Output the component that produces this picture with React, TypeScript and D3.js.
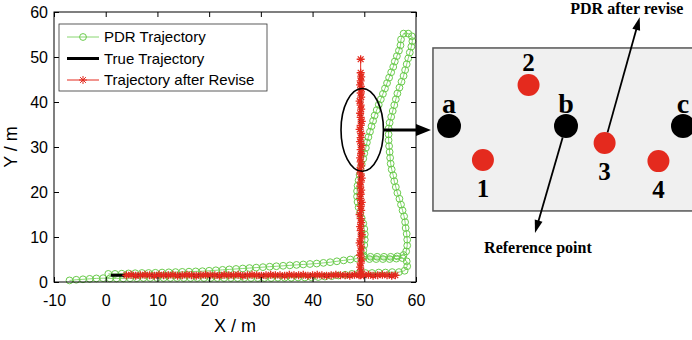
import React, { useEffect, useRef } from 'react';
import * as d3 from 'd3';

type Pt = [number, number];

const xTicks = [-10, 0, 10, 20, 30, 40, 50, 60];
const yTicks = [0, 10, 20, 30, 40, 50, 60];

// PDR trajectory in walking order
const pdrEast: Pt[] = [
  [0.5, 1.8], [1.8, 1.8], [3.1, 1.85], [4.4, 1.9], [5.7, 1.95], [7.0, 2.0], [8.3, 2.0], [9.6, 2.05],
  [10.9, 2.1], [12.2, 2.15], [13.5, 2.2], [14.8, 2.25], [16.1, 2.3], [17.4, 2.35], [18.7, 2.4], [20.0, 2.5],
  [21.3, 2.6], [22.6, 2.7], [23.9, 2.8], [25.2, 2.9], [26.5, 3.0], [27.8, 3.1], [29.1, 3.2], [30.4, 3.3],
  [31.7, 3.4], [33.0, 3.5], [34.3, 3.6], [35.6, 3.7], [36.9, 3.8], [38.2, 3.9], [39.5, 4.0], [40.8, 4.1],
  [42.1, 4.25], [43.4, 4.4], [44.7, 4.6], [46.0, 4.8], [47.3, 5.0], [48.6, 5.2], [49.9, 5.5], [51.2, 5.6],
  [52.5, 5.6], [53.8, 5.6], [55.1, 5.6], [56.4, 5.7], [57.6, 6.0],
];
const pdrNorth: Pt[] = [
  [58.1, 6.8], [58.3, 8.1], [58.3, 9.4], [58.2, 10.7], [58.0, 12.0], [57.9, 13.3], [57.7, 14.6], [57.4, 15.9],
  [57.1, 17.2], [56.8, 18.5], [56.4, 19.8], [56.1, 21.1], [55.8, 22.4], [55.6, 23.7], [55.3, 25.0], [55.1, 26.3],
  [55.0, 27.6], [54.9, 28.9], [54.8, 30.2], [54.7, 31.5], [54.7, 32.8], [54.7, 34.1], [54.9, 35.4], [55.2, 36.7],
  [55.5, 38.0], [55.8, 39.3], [56.1, 40.6], [56.4, 41.9], [56.8, 43.2], [57.2, 44.5], [57.6, 45.8], [57.9, 47.1],
  [58.2, 48.4], [58.5, 49.7], [58.8, 51.0], [59.1, 52.3], [59.3, 53.5], [59.2, 54.6], [58.5, 55.2], [57.6, 55.2],
];
const pdrSouth: Pt[] = [
  [57.1, 53.9], [57.0, 52.6], [56.7, 51.4], [56.3, 50.2], [55.9, 49.0], [55.6, 47.8], [55.2, 46.6], [54.8, 45.4],
  [54.4, 44.2], [54.0, 43.0], [53.6, 41.8], [53.2, 40.6], [52.8, 39.4], [52.4, 38.2], [52.0, 37.0], [51.7, 35.8],
  [51.4, 34.6], [51.1, 33.4], [50.8, 32.2], [50.5, 31.0], [50.3, 29.8], [50.0, 28.6], [49.8, 27.4], [49.5, 26.2],
  [49.3, 25.0], [49.1, 23.8], [48.9, 22.6], [48.7, 21.4], [48.6, 20.2], [48.6, 19.0], [48.7, 17.8], [48.9, 16.6],
  [49.2, 15.4], [49.5, 14.2], [49.8, 13.0], [50.0, 11.8], [50.1, 10.6], [50.1, 9.4], [50.0, 8.2], [49.8, 7.0],
  [49.9, 5.9],
];
const pdrReturn: Pt[] = [
  [51.0, 5.1], [52.3, 5.1], [53.6, 5.1], [54.9, 5.1], [56.2, 5.2], [57.4, 5.3], [58.2, 4.6], [58.3, 3.5],
  [57.8, 2.5], [56.7, 2.2], [55.4, 2.2], [54.1, 2.1], [52.8, 2.1], [51.5, 2.0], [50.2, 2.0], [48.9, 1.9],
  [47.6, 1.8], [46.3, 1.6], [45.0, 1.45], [43.7, 1.3], [42.4, 1.2], [41.1, 1.1], [39.8, 1.05], [38.5, 1.0],
  [37.2, 1.0], [35.9, 0.95], [34.6, 0.95], [33.3, 0.95], [32.0, 0.9], [30.7, 0.9], [29.4, 0.9], [28.1, 0.9],
  [26.8, 0.9], [25.5, 0.9], [24.2, 0.9], [22.9, 0.9], [21.6, 0.9], [20.3, 0.9], [19.0, 0.9], [17.7, 0.9],
  [16.4, 0.9], [15.1, 0.9], [13.8, 0.9], [12.5, 0.9], [11.2, 0.9], [9.9, 0.9], [8.6, 0.9], [7.3, 0.9],
  [6.0, 0.85], [4.7, 0.85], [3.4, 0.8], [2.1, 0.8], [0.8, 0.8], [-0.5, 0.85], [-1.8, 0.8], [-3.1, 0.7],
  [-4.4, 0.6], [-5.7, 0.5], [-7.0, 0.35],
];
const pdrTrajectory: Pt[] = [...pdrEast, ...pdrNorth, ...pdrSouth, ...pdrReturn];

const trueTrajectory: Pt[] = [[1, 1.5], [56, 1.5], [49.3, 1.5], [49.3, 46]];

const revisedEast: Pt[] = [
  [4.0, 1.5], [4.9, 1.6], [5.8, 1.4], [6.7, 1.5], [7.6, 1.6], [8.5, 1.5], [9.4, 1.4], [10.3, 1.6],
  [11.2, 1.5], [12.1, 1.5], [13.0, 1.6], [13.9, 1.4], [14.8, 1.5], [15.7, 1.6], [16.6, 1.5], [17.5, 1.4],
  [18.4, 1.5], [19.3, 1.6], [20.2, 1.5], [21.1, 1.5], [22.0, 1.4], [22.9, 1.6], [23.8, 1.5], [24.7, 1.5],
  [25.6, 1.6], [26.5, 1.4], [27.4, 1.5], [28.3, 1.6], [29.2, 1.5], [30.1, 1.4], [31.0, 1.5], [31.9, 1.6],
  [32.8, 1.5], [33.7, 1.5], [34.6, 1.4], [35.5, 1.6], [36.4, 1.5], [37.3, 1.5], [38.2, 1.6], [39.1, 1.4],
  [40.0, 1.5], [40.9, 1.6], [41.8, 1.5], [42.7, 1.4], [43.6, 1.5], [44.5, 1.6], [45.4, 1.5], [46.3, 1.5],
  [47.2, 1.4], [48.1, 1.6], [49.0, 1.5], [49.9, 1.5], [50.8, 1.6], [51.7, 1.4], [52.6, 1.5], [53.5, 1.6],
  [54.4, 1.5], [55.3, 1.4], [56.0, 1.5],
];
const revisedNorth: Pt[] = [
  [49.3, 1.5], [49.4, 2.4], [49.2, 3.3], [49.3, 4.2], [49.5, 5.1], [49.2, 6.0], [49.3, 6.9], [49.4, 7.8],
  [49.1, 8.7], [49.3, 9.6], [49.5, 10.5], [49.3, 11.4], [49.2, 12.3], [49.4, 13.2], [49.3, 14.1], [49.1, 15.0],
  [49.4, 15.9], [49.3, 16.8], [49.5, 17.7], [49.2, 18.6], [49.3, 19.5], [49.4, 20.4], [49.2, 21.3], [49.3, 22.2],
  [49.5, 23.1], [49.3, 24.0], [49.1, 24.9], [49.4, 25.8], [49.3, 26.7], [49.2, 27.6], [49.4, 28.5], [49.3, 29.4],
  [49.5, 30.3], [49.2, 31.2], [49.3, 32.1], [49.4, 33.0], [49.1, 33.9], [49.3, 34.8], [49.5, 35.7], [49.3, 36.6],
  [49.2, 37.5], [49.4, 38.4], [49.3, 39.3], [49.1, 40.2], [49.4, 41.1], [49.3, 42.0], [49.5, 42.9], [49.2, 43.8],
  [49.3, 44.7], [49.4, 45.6], [49.3, 46.5], [49.3, 49.5],
];

const legendLabels = ['PDR Trajectory', 'True Trajectory', 'Trajectory after Revise'];

// zoomed region (data units) and the schematic inset (its own units)
const focus = { cx: 49.6, cy: 33.8, rx: 4.1, ry: 9.2 };
const refPoints = [
  { label: 'a', u: 0, v: 0 },
  { label: 'b', u: 10, v: 0 },
  { label: 'c', u: 20, v: 0 },
];
const revisePoints = [
  { label: '1', u: 2.9, v: -2.9, above: false },
  { label: '2', u: 6.8, v: 3.5, above: true },
  { label: '3', u: 13.3, v: -1.45, above: false },
  { label: '4', u: 17.9, v: -3.0, above: false },
];
const callouts = [
  { text: 'PDR after revise', from: { u: 13.3, v: -1.45, r: 11 }, tip: [16.3, 9.3], at: [15.2, 9.57] },
  { text: 'Reference point', from: { u: 10, v: 0, r: 12 }, tip: [7.35, -9.15], at: [7.6, -10.85] },
];

const GREEN = '#6acb4c';
const RED = '#e42a1e';
const SANS = '"Liberation Sans", Arial, sans-serif';
const SERIF = '"Liberation Serif", "Times New Roman", serif';
const STAR = 'M-4,0H4M0,-4V4M-2.9,-2.9L2.9,2.9M-2.9,2.9L2.9,-2.9';

export default function App() {
  const svgRef = useRef<SVGSVGElement>(null);

  useEffect(() => {
    const svg = d3.select(svgRef.current);
    svg.selectAll('*').remove();

    const x = d3.scaleLinear().domain([-10, 60]).range([54, 416]);
    const y = d3.scaleLinear().domain([0, 60]).range([282, 12]);
    const line = d3.line<Pt>().x((d) => x(d[0])).y((d) => y(d[1]));

    svg.append('rect').attr('x', 54).attr('y', 12).attr('width', 362).attr('height', 270).attr('fill', 'white');

    // PDR
    svg.append('path').attr('d', line(pdrTrajectory)).attr('fill', 'none').attr('stroke', GREEN).attr('stroke-width', 0.8);
    svg.append('g').selectAll('circle').data(pdrTrajectory).enter().append('circle')
      .attr('cx', (d) => x(d[0])).attr('cy', (d) => y(d[1])).attr('r', 3.4)
      .attr('fill', 'none').attr('stroke', GREEN).attr('stroke-width', 1);

    // true
    svg.append('path').attr('d', line(trueTrajectory)).attr('fill', 'none').attr('stroke', '#000').attr('stroke-width', 3);

    // revised
    [revisedEast, revisedNorth].forEach((seg) => {
      svg.append('path').attr('d', line(seg)).attr('fill', 'none').attr('stroke', RED).attr('stroke-width', 1);
      svg.append('g').selectAll('path').data(seg).enter().append('path')
        .attr('d', STAR).attr('transform', (d) => `translate(${x(d[0])},${y(d[1])})`)
        .attr('fill', 'none').attr('stroke', RED).attr('stroke-width', 1.3);
    });

    // axes, MATLAB style box with inward ticks
    const style = (g: any) => {
      g.select('.domain').remove();
      g.selectAll('line').attr('stroke', '#000');
      g.attr('font-family', SANS).attr('font-size', 16);
      g.selectAll('text').attr('fill', '#000');
    };
    const fmt = (d: any) => String(d);
    svg.append('g').attr('transform', 'translate(0,282)')
      .call(d3.axisBottom(x).tickValues(xTicks).tickFormat(fmt).tickSizeInner(-5).tickSizeOuter(0).tickPadding(13)).call(style);
    svg.append('g').attr('transform', 'translate(54,0)')
      .call(d3.axisLeft(y).tickValues(yTicks).tickFormat(fmt).tickSizeInner(-5).tickSizeOuter(0).tickPadding(6)).call(style);
    svg.append('g').attr('transform', 'translate(0,12)')
      .call(d3.axisTop(x).tickValues(xTicks).tickSizeInner(-5).tickSizeOuter(0).tickFormat(() => '')).call(style);
    svg.append('g').attr('transform', 'translate(416,0)')
      .call(d3.axisRight(y).tickValues(yTicks).tickSizeInner(-5).tickSizeOuter(0).tickFormat(() => '')).call(style);
    svg.append('rect').attr('x', 54).attr('y', 12).attr('width', 362).attr('height', 270)
      .attr('fill', 'none').attr('stroke', '#000').attr('stroke-width', 1);

    svg.append('text').attr('x', 235).attr('y', 332).attr('text-anchor', 'middle')
      .attr('font-family', SANS).attr('font-size', 18).text('X / m');
    svg.append('text').attr('transform', 'translate(17,147) rotate(-90)').attr('text-anchor', 'middle')
      .attr('font-family', SANS).attr('font-size', 18).text('Y / m');

    // legend
    const lg = svg.append('g');
    lg.append('rect').attr('x', 59).attr('y', 24).attr('width', 208).attr('height', 67)
      .attr('fill', 'white').attr('stroke', '#333').attr('stroke-width', 0.8);
    legendLabels.forEach((label, i) => {
      const ly = 37 + i * 21.5;
      const row = lg.append('g');
      if (i === 0) {
        row.append('line').attr('x1', 67).attr('x2', 99).attr('y1', ly).attr('y2', ly).attr('stroke', GREEN).attr('stroke-width', 0.8);
        row.append('circle').attr('cx', 83).attr('cy', ly).attr('r', 3.4).attr('fill', 'none').attr('stroke', GREEN);
      } else if (i === 1) {
        row.append('line').attr('x1', 67).attr('x2', 99).attr('y1', ly).attr('y2', ly).attr('stroke', '#000').attr('stroke-width', 3);
      } else {
        row.append('line').attr('x1', 67).attr('x2', 99).attr('y1', ly).attr('y2', ly).attr('stroke', RED).attr('stroke-width', 1);
        row.append('path').attr('d', STAR).attr('transform', `translate(83,${ly})`).attr('fill', 'none').attr('stroke', RED);
      }
      row.append('text').attr('x', 104).attr('y', ly).attr('dy', '0.36em')
        .attr('font-family', SANS).attr('font-size', 15).text(label);
    });

    // ellipse marking the zoomed region
    const ecx = x(focus.cx);
    const ecy = y(focus.cy);
    const erx = x(focus.cx + focus.rx) - ecx;
    const ery = y(focus.cy - focus.ry) - ecy;
    svg.append('ellipse').attr('cx', ecx).attr('cy', ecy).attr('rx', erx).attr('ry', ery)
      .attr('fill', 'none').attr('stroke', '#000').attr('stroke-width', 1.6);

    // inset
    const ix = d3.scaleLinear().domain([0, 20]).range([449, 683]);
    const iy = d3.scaleLinear().domain([0, 10]).range([126, 9]);
    const left = ix(-1.37);
    svg.append('rect').attr('x', left).attr('y', iy(6.67)).attr('width', 300).attr('height', iy(-7.26) - iy(6.67))
      .attr('fill', '#f0f0f0').attr('stroke', '#555').attr('stroke-width', 1.5);

    const arrow = (x1: number, y1: number, x2: number, y2: number, w: number, hl: number, hw: number) => {
      const dx = x2 - x1, dy = y2 - y1;
      const len = Math.hypot(dx, dy);
      const ux = dx / len, uy = dy / len;
      const bx = x2 - ux * hl, by = y2 - uy * hl;
      svg.append('line').attr('x1', x1).attr('y1', y1).attr('x2', bx + ux).attr('y2', by + uy)
        .attr('stroke', '#000').attr('stroke-width', w);
      svg.append('polygon')
        .attr('points', `${x2},${y2} ${bx - uy * hw / 2},${by + ux * hw / 2} ${bx + uy * hw / 2},${by - ux * hw / 2}`)
        .attr('fill', '#000');
    };
    arrow(ecx + erx, ecy, left - 2, ecy, 3, 15, 12);

    refPoints.forEach((p) => {
      svg.append('circle').attr('cx', ix(p.u)).attr('cy', iy(p.v)).attr('r', 12).attr('fill', '#000');
      svg.append('text').attr('x', ix(p.u)).attr('y', iy(p.v) - 13).attr('text-anchor', 'middle')
        .attr('font-family', SERIF).attr('font-weight', 'bold').attr('font-size', 28).text(p.label);
    });
    revisePoints.forEach((p) => {
      svg.append('circle').attr('cx', ix(p.u)).attr('cy', iy(p.v)).attr('r', 11).attr('fill', RED);
      svg.append('text').attr('x', ix(p.u)).attr('y', iy(p.v) + (p.above ? -14 : 37)).attr('text-anchor', 'middle')
        .attr('font-family', SERIF).attr('font-weight', 'bold').attr('font-size', 25).text(p.label);
    });
    callouts.forEach((c) => {
      const cx = ix(c.from.u), cy = iy(c.from.v);
      const tx = ix(c.tip[0]), ty = iy(c.tip[1]);
      const len = Math.hypot(tx - cx, ty - cy);
      arrow(cx + (tx - cx) / len * c.from.r, cy + (ty - cy) / len * c.from.r, tx, ty, 1.8, 13, 8);
      svg.append('text').attr('x', ix(c.at[0])).attr('y', iy(c.at[1])).attr('text-anchor', 'middle')
        .attr('font-family', SERIF).attr('font-weight', 'bold').attr('font-size', 16).text(c.text);
    });
  }, []);

  return (
    <div style={{ position: 'absolute', left: 0, top: 0 }}>
      <svg ref={svgRef} width={692} height={340} style={{ display: 'block', background: 'white' }} />
    </div>
  );
}
